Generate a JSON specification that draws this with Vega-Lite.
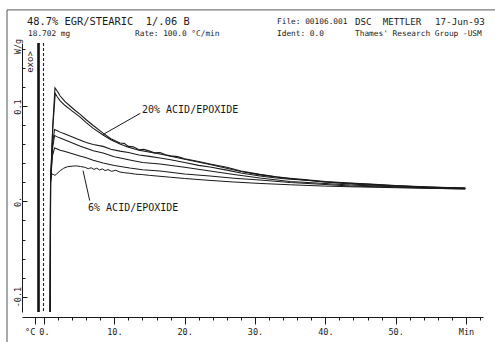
{
  "$schema": "https://vega.github.io/schema/vega-lite/v6.json",
  "autosize": {"type": "none"},
  "width": 461,
  "height": 269,
  "padding": {"left": 22, "top": 43, "right": 12, "bottom": 30},
  "background": "white",
  "config": {"view": {"stroke": null}, "font": "DejaVu Sans Mono", "axis": {"labelOverlap": false, "labelBound": false}},
  "datasets": {
    "curves": [
      {"series":"A","t":0.85,"v":-0.2},{"series":"A","t":0.93,"v":0.02},{"series":"A","t":1.25,"v":0.08},{"series":"A","t":1.56,"v":0.1195},{"series":"A","t":1.9,"v":0.116},{"series":"A","t":2.3,"v":0.111},{"series":"A","t":3.0,"v":0.105},{"series":"A","t":3.7,"v":0.1005},{"series":"A","t":4.4,"v":0.096},{"series":"A","t":5.1,"v":0.092},{"series":"A","t":6.0,"v":0.086},{"series":"A","t":7.0,"v":0.08},{"series":"A","t":8.4,"v":0.072},{"series":"A","t":9.5,"v":0.066},{"series":"A","t":10.8,"v":0.0616},{"series":"A","t":11.4,"v":0.0612},{"series":"A","t":12,"v":0.058},{"series":"A","t":12.7,"v":0.0575},{"series":"A","t":13.5,"v":0.0545},{"series":"A","t":14.2,"v":0.0548},{"series":"A","t":15,"v":0.053},{"series":"A","t":15.7,"v":0.0512},{"series":"A","t":16.5,"v":0.0515},{"series":"A","t":17.3,"v":0.0492},{"series":"A","t":18,"v":0.048},{"series":"A","t":19,"v":0.0472},{"series":"A","t":20,"v":0.045},{"series":"A","t":22,"v":0.042},{"series":"A","t":23.6,"v":0.0395},{"series":"A","t":26,"v":0.036},{"series":"A","t":28,"v":0.032},{"series":"A","t":30.7,"v":0.0285},{"series":"A","t":33,"v":0.026},{"series":"A","t":35,"v":0.0245},{"series":"A","t":37,"v":0.023},{"series":"A","t":40,"v":0.021},{"series":"A","t":43.5,"v":0.0195},{"series":"A","t":47,"v":0.018},{"series":"A","t":50,"v":0.0168},{"series":"A","t":55,"v":0.0152},{"series":"A","t":59.9,"v":0.0142},
      {"series":"B","t":0.85,"v":-0.2},{"series":"B","t":0.93,"v":0.02},{"series":"B","t":1.25,"v":0.078},{"series":"B","t":1.6,"v":0.1137},{"series":"B","t":1.9,"v":0.11},{"series":"B","t":2.3,"v":0.106},{"series":"B","t":3.0,"v":0.101},{"series":"B","t":3.7,"v":0.097},{"series":"B","t":4.4,"v":0.093},{"series":"B","t":5.1,"v":0.089},{"series":"B","t":6.0,"v":0.083},{"series":"B","t":7,"v":0.077},{"series":"B","t":8.4,"v":0.07},{"series":"B","t":9.5,"v":0.065},{"series":"B","t":10.8,"v":0.0605},{"series":"B","t":12,"v":0.057},{"series":"B","t":13.5,"v":0.054},{"series":"B","t":16.5,"v":0.05},{"series":"B","t":20,"v":0.0445},{"series":"B","t":23.6,"v":0.039},{"series":"B","t":28,"v":0.0315},{"series":"B","t":30.7,"v":0.028},{"series":"B","t":35,"v":0.024},{"series":"B","t":40,"v":0.0205},{"series":"B","t":45,"v":0.0185},{"series":"B","t":50,"v":0.0165},{"series":"B","t":55,"v":0.015},{"series":"B","t":59.9,"v":0.014},
      {"series":"C","t":0.85,"v":-0.2},{"series":"C","t":0.93,"v":0.02},{"series":"C","t":1.2,"v":0.06},{"series":"C","t":1.5,"v":0.0758},{"series":"C","t":1.9,"v":0.0745},{"series":"C","t":2.3,"v":0.073},{"series":"C","t":3,"v":0.071},{"series":"C","t":3.7,"v":0.069},{"series":"C","t":4.4,"v":0.0668},{"series":"C","t":5.1,"v":0.0647},{"series":"C","t":6,"v":0.062},{"series":"C","t":7,"v":0.06},{"series":"C","t":8.4,"v":0.058},{"series":"C","t":9.5,"v":0.055},{"series":"C","t":10.8,"v":0.053},{"series":"C","t":12,"v":0.0515},{"series":"C","t":13.5,"v":0.049},{"series":"C","t":15,"v":0.0475},{"series":"C","t":16.5,"v":0.0458},{"series":"C","t":18,"v":0.044},{"series":"C","t":20,"v":0.041},{"series":"C","t":22,"v":0.038},{"series":"C","t":23.6,"v":0.0363},{"series":"C","t":26,"v":0.033},{"series":"C","t":28,"v":0.03},{"series":"C","t":30.7,"v":0.0268},{"series":"C","t":33,"v":0.0248},{"series":"C","t":35,"v":0.0235},{"series":"C","t":37,"v":0.0226},{"series":"C","t":40,"v":0.0205},{"series":"C","t":43.5,"v":0.0184},{"series":"C","t":47,"v":0.017},{"series":"C","t":50,"v":0.0163},{"series":"C","t":55,"v":0.015},{"series":"C","t":59.9,"v":0.0142},
      {"series":"D","t":0.85,"v":-0.2},{"series":"D","t":0.93,"v":0.02},{"series":"D","t":1.2,"v":0.055},{"series":"D","t":1.5,"v":0.0695},{"series":"D","t":1.9,"v":0.068},{"series":"D","t":2.3,"v":0.0668},{"series":"D","t":3,"v":0.0647},{"series":"D","t":3.7,"v":0.0626},{"series":"D","t":4.4,"v":0.0605},{"series":"D","t":5.1,"v":0.0584},{"series":"D","t":6,"v":0.056},{"series":"D","t":7,"v":0.0535},{"series":"D","t":8.4,"v":0.051},{"series":"D","t":10,"v":0.047},{"series":"D","t":12.2,"v":0.0437},{"series":"D","t":14,"v":0.041},{"series":"D","t":16.5,"v":0.0395},{"series":"D","t":20,"v":0.036},{"series":"D","t":23.6,"v":0.0321},{"series":"D","t":27,"v":0.0285},{"series":"D","t":30.7,"v":0.0247},{"series":"D","t":35,"v":0.021},{"series":"D","t":40,"v":0.019},{"series":"D","t":43.5,"v":0.0174},{"series":"D","t":50,"v":0.0155},{"series":"D","t":55,"v":0.0145},{"series":"D","t":59.9,"v":0.0137},
      {"series":"E","t":0.85,"v":-0.2},{"series":"E","t":0.93,"v":0.02},{"series":"E","t":1.2,"v":0.048},{"series":"E","t":1.5,"v":0.0563},{"series":"E","t":1.9,"v":0.0552},{"series":"E","t":2.3,"v":0.054},{"series":"E","t":3,"v":0.0525},{"series":"E","t":3.7,"v":0.051},{"series":"E","t":4.4,"v":0.0495},{"series":"E","t":5.1,"v":0.0479},{"series":"E","t":6,"v":0.046},{"series":"E","t":7,"v":0.0435},{"series":"E","t":8.4,"v":0.0405},{"series":"E","t":10,"v":0.038},{"series":"E","t":12.2,"v":0.0353},{"series":"E","t":14,"v":0.0335},{"series":"E","t":16.5,"v":0.032},{"series":"E","t":20,"v":0.029},{"series":"E","t":23.6,"v":0.0268},{"series":"E","t":27,"v":0.0245},{"series":"E","t":30.7,"v":0.0226},{"series":"E","t":35,"v":0.02},{"series":"E","t":40,"v":0.0178},{"series":"E","t":43.5,"v":0.0163},{"series":"E","t":50,"v":0.015},{"series":"E","t":55,"v":0.014},{"series":"E","t":59.9,"v":0.0132},
      {"series":"F","t":0.85,"v":-0.2},{"series":"F","t":0.95,"v":0.022},{"series":"F","t":1.1,"v":0.029},{"series":"F","t":1.3,"v":0.0285},{"series":"F","t":1.55,"v":0.0275},{"series":"F","t":1.8,"v":0.029},{"series":"F","t":2.3,"v":0.0325},{"series":"F","t":2.8,"v":0.035},{"series":"F","t":3.3,"v":0.0365},{"series":"F","t":4.0,"v":0.0372},{"series":"F","t":4.6,"v":0.0375},{"series":"F","t":5.2,"v":0.0368},{"series":"F","t":5.8,"v":0.036},{"series":"F","t":6.3,"v":0.0345},{"series":"F","t":6.7,"v":0.0355},{"series":"F","t":7.1,"v":0.0338},{"series":"F","t":7.5,"v":0.035},{"series":"F","t":7.9,"v":0.0332},{"series":"F","t":8.3,"v":0.0343},{"series":"F","t":8.7,"v":0.0325},{"series":"F","t":9.1,"v":0.0336},{"series":"F","t":9.6,"v":0.0318},{"series":"F","t":10.2,"v":0.0328},{"series":"F","t":10.8,"v":0.031},{"series":"F","t":11.5,"v":0.0302},{"series":"F","t":12.2,"v":0.0297},{"series":"F","t":13,"v":0.0288},{"series":"F","t":14,"v":0.0283},{"series":"F","t":15,"v":0.0275},{"series":"F","t":16.5,"v":0.0265},{"series":"F","t":18,"v":0.0255},{"series":"F","t":20,"v":0.0242},{"series":"F","t":23.6,"v":0.0222},{"series":"F","t":27,"v":0.0205},{"series":"F","t":30.7,"v":0.019},{"series":"F","t":35,"v":0.0176},{"series":"F","t":40,"v":0.0162},{"series":"F","t":43.5,"v":0.0155},{"series":"F","t":50,"v":0.0145},{"series":"F","t":55,"v":0.0138},{"series":"F","t":59.9,"v":0.0132}
    ],
    "verticals": [
      {"kind": "thick", "t": -0.78},
      {"kind": "dashed", "t": -0.07}
    ],
    "frame": [
      {"t": -5.26, "t2": 80, "v": 0.2016, "v2": 0.2016},
      {"t": -5.26, "t2": -5.26, "v": 0.2016, "v2": -0.5}
    ],
    "pointers": [
      {"t": 8.39, "v": 0.0705, "t2": 13.7, "v2": 0.0928},
      {"t": 5.55, "v": 0.0325, "t2": 6.5, "v2": 0.001}
    ],
    "texts": [
      {"id": "title", "t": -2.417, "v": 0.189, "text": "48.7% EGR/STEARIC\u00a0\u00a01/.06 B"},
      {"id": "dsc", "t": 44.22, "v": 0.189, "text": "DSC\u00a0\u00a0METTLER"},
      {"id": "mass", "t": -2.275, "v": 0.1763, "text": "18.702 mg"},
      {"id": "rate", "t": 12.94, "v": 0.1763, "text": "Rate: 100.0 °C/min"},
      {"id": "file", "t": 33.13, "v": 0.189, "text": "File: 00106.001"},
      {"id": "date", "t": 55.6, "v": 0.189, "text": "17-Jun-93"},
      {"id": "ident", "t": 33.13, "v": 0.1763, "text": "Ident: 0.0"},
      {"id": "group", "t": 44.22, "v": 0.1763, "text": "Thames' Research Group -USM"},
      {"id": "lab20", "t": 13.93, "v": 0.0963, "text": "20% ACID/EPOXIDE"},
      {"id": "lab6", "t": 6.26, "v": -0.0068, "text": "6% ACID/EPOXIDE"},
      {"id": "exo", "t": -1.92, "v": 0.1468, "text": "exo>"}
    ]
  },
  "layer": [
    {
      "data": {"name": "curves"},
      "mark": {"type": "line", "clip": true, "color": "#1a1a1a"},
      "encoding": {
        "x": {
          "field": "t", "type": "quantitative",
          "scale": {"domain": [-3.128, 62.42], "nice": false, "zero": false},
          "axis": {
            "title": null, "grid": false, "offset": 5, "tickCount": 200,
            "values": [-1.3, 0, 2, 4, 6, 8, 10, 12, 14, 16, 18, 20, 22, 24, 26, 28, 30, 32, 34, 36, 38, 40, 42, 44, 46, 48, 50, 52, 54, 56, 58, 60, 62],
            "labelExpr": "datum.value < 0 ? '°C' : (datum.value == 60 ? 'Min' : (datum.value % 10 == 0 ? datum.value + '.' : ''))",
            "labelFont": "DejaVu Sans Mono", "labelFontSize": 8.5, "labelColor": "#1a1a1a",
            "labelAlign": {"condition": {"test": "datum.value < 0", "value": "right"}, "value": "center"},
            "labelPadding": 3, "labelDx": 2, "labelFlush": false, "labelOverlap": false, "labelBound": false,
            "domainColor": "#1a1a1a", "tickColor": "#1a1a1a",
            "tickSize": {"condition": {"test": "datum.value % 10 == 0 || datum.value < 0", "value": 7}, "value": 3}
          }
        },
        "y": {
          "field": "v", "type": "quantitative",
          "scale": {"domain": [-0.1163, 0.1668], "nice": false, "zero": false},
          "axis": {
            "title": "W/g", "titleAngle": 270, "titleX": -5, "titleY": 3,
            "titleFont": "DejaVu Sans Mono", "titleFontSize": 8.5, "titleFontWeight": "normal", "titleColor": "#1a1a1a",
            "titleAlign": "center", "titleBaseline": "middle",
            "grid": false, "tickCount": 200,
            "values": [-0.1, -0.08, -0.06, -0.04, -0.02, 0, 0.02, 0.04, 0.06, 0.08, 0.1, 0.12, 0.14, 0.16],
            "labelExpr": "abs(datum.value - 0.1) < 1e-9 ? '0.1' : (abs(datum.value) < 1e-9 ? '0.' : (abs(datum.value + 0.1) < 1e-9 ? '-0.1' : ''))",
            "labelAngle": 270, "labelFont": "DejaVu Sans Mono", "labelFontSize": 8.5, "labelColor": "#1a1a1a",
            "labelPadding": 5, "labelOverlap": false, "labelBound": false,
            "domainColor": "#1a1a1a", "tickColor": "#1a1a1a",
            "tickSize": {"condition": {"test": "abs(datum.value * 10 - round(datum.value * 10)) < 1e-6", "value": -5}, "value": -3}
          }
        },
        "detail": {"field": "series"},
        "strokeWidth": {"field": "series", "type": "ordinal", "scale": {"domain": ["A", "B", "C", "D", "E", "F"], "range": [1.1, 1, 1.9, 1, 1, 1]}, "legend": null}
      }
    },
    {
      "data": {"name": "verticals"},
      "transform": [{"filter": "datum.kind == 'thick'"}],
      "mark": {"type": "rule", "color": "#111", "strokeWidth": 2.6},
      "encoding": {"x": {"field": "t", "type": "quantitative"}}
    },
    {
      "data": {"name": "verticals"},
      "transform": [{"filter": "datum.kind == 'dashed'"}],
      "mark": {"type": "rule", "color": "#222", "strokeWidth": 1.1, "strokeDash": [3, 2]},
      "encoding": {"x": {"field": "t", "type": "quantitative"}}
    },
    {
      "data": {"name": "frame"},
      "mark": {"type": "rule", "color": "#555", "strokeWidth": 1, "clip": false},
      "encoding": {
        "x": {"field": "t", "type": "quantitative"},
        "x2": {"field": "t2"},
        "y": {"field": "v", "type": "quantitative"},
        "y2": {"field": "v2"}
      }
    },
    {
      "data": {"name": "pointers"},
      "mark": {"type": "rule", "color": "#1a1a1a", "strokeWidth": 1},
      "encoding": {
        "x": {"field": "t", "type": "quantitative"},
        "x2": {"field": "t2"},
        "y": {"field": "v", "type": "quantitative"},
        "y2": {"field": "v2"}
      }
    },
    {
      "data": {"name": "texts"},
      "transform": [{"filter": "datum.id == 'title'"}],
      "mark": {"type": "text", "align": "left", "baseline": "middle", "fontSize": 10.4, "font": "DejaVu Sans Mono", "color": "#1a1a1a", "clip": false},
      "encoding": {"x": {"field": "t", "type": "quantitative"}, "y": {"field": "v", "type": "quantitative"}, "text": {"field": "text"}}
    },
    {
      "data": {"name": "texts"},
      "transform": [{"filter": "datum.id == 'dsc' || datum.id == 'date'"}],
      "mark": {"type": "text", "align": "left", "baseline": "middle", "fontSize": 9.2, "font": "DejaVu Sans Mono", "color": "#1a1a1a", "clip": false},
      "encoding": {"x": {"field": "t", "type": "quantitative"}, "y": {"field": "v", "type": "quantitative"}, "text": {"field": "text"}}
    },
    {
      "data": {"name": "texts"},
      "transform": [{"filter": "datum.id == 'mass' || datum.id == 'rate' || datum.id == 'file' || datum.id == 'ident' || datum.id == 'group'"}],
      "mark": {"type": "text", "align": "left", "baseline": "middle", "fontSize": 7.8, "font": "DejaVu Sans Mono", "color": "#1a1a1a", "clip": false},
      "encoding": {"x": {"field": "t", "type": "quantitative"}, "y": {"field": "v", "type": "quantitative"}, "text": {"field": "text"}}
    },
    {
      "data": {"name": "texts"},
      "transform": [{"filter": "datum.id == 'lab20' || datum.id == 'lab6'"}],
      "mark": {"type": "text", "align": "left", "baseline": "middle", "fontSize": 10, "font": "DejaVu Sans Mono", "color": "#1a1a1a"},
      "encoding": {"x": {"field": "t", "type": "quantitative"}, "y": {"field": "v", "type": "quantitative"}, "text": {"field": "text"}}
    },
    {
      "data": {"name": "texts"},
      "transform": [{"filter": "datum.id == 'exo'"}],
      "mark": {"type": "text", "align": "center", "baseline": "middle", "angle": 270, "fontSize": 9, "font": "DejaVu Sans Mono", "color": "#1a1a1a"},
      "encoding": {"x": {"field": "t", "type": "quantitative"}, "y": {"field": "v", "type": "quantitative"}, "text": {"field": "text"}}
    }
  ]
}
